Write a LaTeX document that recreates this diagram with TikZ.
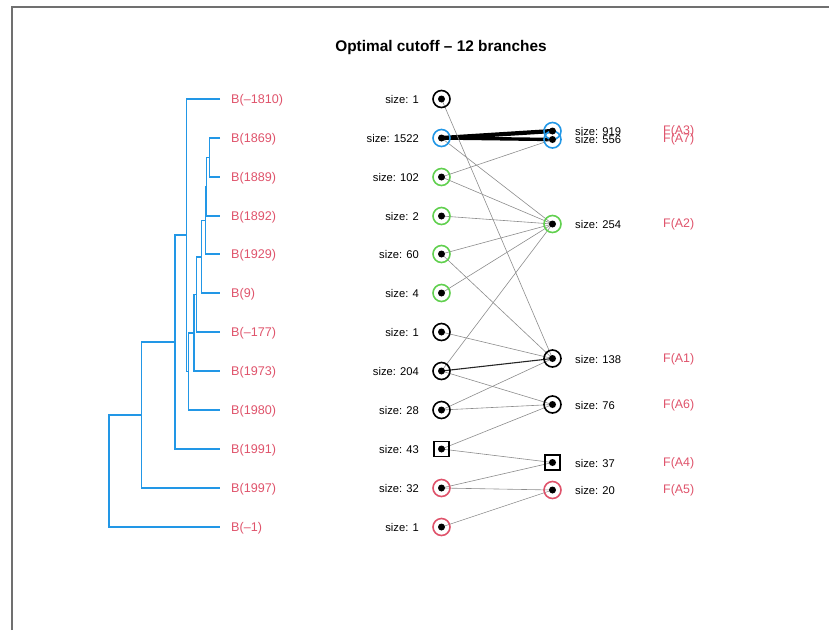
\documentclass[tikz,border=0pt]{standalone}
\usepackage{fontspec}
\setmainfont{Liberation Sans}
\definecolor{rblue}{HTML}{2297E6}
\definecolor{rgreen}{HTML}{61D04F}
\definecolor{rred}{HTML}{DF536B}
\definecolor{framegray}{HTML}{707070}
\definecolor{edgegray}{HTML}{8C8C8C}
\begin{document}
\begin{tikzpicture}[x=1pt,y=-1pt,
  dend/.style={draw=rblue,line width=1.4pt},
  leaflab/.style={anchor=west,text=rred,font=\fontsize{12.6}{14}\selectfont,inner sep=0pt},
  sizelab/.style={font=\fontsize{11.2}{13}\selectfont,inner sep=0pt},
  flab/.style={anchor=west,text=rred,font=\fontsize{12.4}{14}\selectfont,inner sep=0pt},
  cnode/.style={circle,draw=#1,line width=1.6pt,minimum size=17pt,inner sep=0pt},
  snode/.style={rectangle,draw=black,line width=1.4pt,minimum size=15pt,inner sep=0pt},
  thinedge/.style={draw=edgegray,line width=0.6pt},
  thickedge/.style={draw=black,line width=#1},
]
\useasboundingbox (0,0) rectangle (829,630);
% frame
\draw[framegray,line width=1.5pt] (12,630) -- (12,7) -- (829,7);
% title
\node[font=\bfseries\fontsize{15.4}{18}\selectfont] (title) at (441,48) {Optimal cutoff – 12 branches};

% leaf ends
\foreach \i/\y in {1/99,2/138,3/177,4/216,5/254,6/293,7/332,8/371,9/410,10/449,11/488,12/527}{
  \coordinate (l\i) at (220,\y);
}
% leaf labels
\node[leaflab] (b1) at (231,100) {B(–1810)};
\node[leaflab] (b2) at (231,139) {B(1869)};
\node[leaflab] (b3) at (231,178) {B(1889)};
\node[leaflab] (b4) at (231,217) {B(1892)};
\node[leaflab] (b5) at (231,255) {B(1929)};
\node[leaflab] (b6) at (231,294) {B(9)};
\node[leaflab] (b7) at (231,333) {B(–177)};
\node[leaflab] (b8) at (231,372) {B(1973)};
\node[leaflab] (b9) at (231,411) {B(1980)};
\node[leaflab] (b10) at (231,450) {B(1991)};
\node[leaflab] (b11) at (231,489) {B(1997)};
\node[leaflab] (b12) at (231,528) {B(–1)};

% merge points
\coordinate (m1) at (209.3,157.5);
\coordinate (m2) at (206.7,187);
\coordinate (m3) at (205.3,220.5);
\coordinate (m4) at (201.7,257);
\coordinate (m5) at (196.7,294.5);
\coordinate (m6) at (194,333);
\coordinate (m7) at (188.3,371.5);
\coordinate (m8) at (186.7,235);
\coordinate (m9) at (175,342);
\coordinate (m10) at (141.7,415);
\coordinate (m11) at (109,471);

\draw[dend] (l2) -| (m1) |- (l3);
\draw[dend] (m1) -| (m2) |- (l4);
\draw[dend] (m2) -| (m3) |- (l5);
\draw[dend] (m3) -| (m4) |- (l6);
\draw[dend] (m4) -| (m5) |- (l7);
\draw[dend] (m5) -| (m6) |- (l8);
\draw[dend] (m6) -| (m7) |- (l9);
\draw[dend] (l1) -| (m8) |- (m7);
\draw[dend] (m8) -| (m9) |- (l10);
\draw[dend] (m9) -| (m10) |- (l11);
\draw[dend] (m10) -| (m11) |- (l12);

% left column positions
\foreach \i/\y in {1/99,2/138,3/177,4/216,5/254,6/293,7/332,8/371,9/410,10/449,11/488,12/527}{
  \coordinate (p\i) at (441.5,\y);
}
% right column positions
\coordinate (qA3) at (552.5,131);
\coordinate (qA7) at (552.5,139.5);
\coordinate (qA2) at (552.5,224);
\coordinate (qA1) at (552.5,358.5);
\coordinate (qA6) at (552.5,404.5);
\coordinate (qA4) at (552.5,462.5);
\coordinate (qA5) at (552.5,490);

% edges
\draw[thickedge=4.2pt] (p2) -- (qA3);
\draw[thickedge=3.4pt] (p2) -- (qA7);
\draw[thinedge] (p1) -- (qA1);
\draw[thinedge] (p2) -- (qA2);
\draw[thinedge] (p3) -- (qA7);
\draw[thinedge] (p3) -- (qA2);
\draw[thinedge] (p4) -- (qA2);
\draw[thinedge] (p5) -- (qA2);
\draw[thinedge] (p5) -- (qA1);
\draw[thinedge] (p6) -- (qA2);
\draw[thinedge] (p7) -- (qA1);
\draw[thinedge] (p8) -- (qA2);
\draw[draw=black!85,line width=1.1pt] (p8) -- (qA1);
\draw[thinedge] (p8) -- (qA6);
\draw[thinedge] (p9) -- (qA1);
\draw[thinedge] (p9) -- (qA6);
\draw[thinedge] (p10) -- (qA6);
\draw[thinedge] (p10) -- (qA4);
\draw[thinedge] (p11) -- (qA4);
\draw[thinedge] (p11) -- (qA5);
\draw[thinedge] (p12) -- (qA5);

% left column shapes
\node[cnode=black] (n1) at (p1) {};
\node[cnode=rblue] (n2) at (p2) {};
\node[cnode=rgreen] (n3) at (p3) {};
\node[cnode=rgreen] (n4) at (p4) {};
\node[cnode=rgreen] (n5) at (p5) {};
\node[cnode=rgreen] (n6) at (p6) {};
\node[cnode=black] (n7) at (p7) {};
\node[cnode=black] (n8) at (p8) {};
\node[cnode=black] (n9) at (p9) {};
\node[snode] (n10) at (p10) {};
\node[cnode=rred] (n11) at (p11) {};
\node[cnode=rred] (n12) at (p12) {};
% right column shapes
\node[cnode=rblue] (A3) at (qA3) {};
\node[cnode=rblue] (A7) at (qA7) {};
\node[cnode=rgreen] (A2) at (qA2) {};
\node[cnode=black] (A1) at (qA1) {};
\node[cnode=black] (A6) at (qA6) {};
\node[snode] (A4) at (qA4) {};
\node[cnode=rred] (A5) at (qA5) {};
% dots
\foreach \p in {p1,p2,p3,p4,p5,p6,p7,p8,p9,p10,p11,p12,qA3,qA7,qA2,qA1,qA6,qA4,qA5}{
  \fill[black] (\p) circle (3.5pt);
}

% left size labels
\foreach \i/\y/\t in {1/99/1,2/138/1522,3/177/102,4/216/2,5/254/60,6/293/4,7/332/1,8/371/204,9/410/28,10/449/43,11/488/32,12/527/1}{
  \node[sizelab,anchor=east] (s\i) at (419,\y+0.5) {size: \t};
}
% right size labels
\node[sizelab,anchor=west] (sA3) at (575,131) {size: 919};
\node[sizelab,anchor=west] (sA7) at (575,139.5) {size: 556};
\node[sizelab,anchor=west] (sA2) at (575,224.5) {size: 254};
\node[sizelab,anchor=west] (sA1) at (575,359) {size: 138};
\node[sizelab,anchor=west] (sA6) at (575,405) {size: 76};
\node[sizelab,anchor=west] (sA4) at (575,463) {size: 37};
\node[sizelab,anchor=west] (sA5) at (575,490.5) {size: 20};
% F labels
\node[flab] (fA3) at (663,131) {F(A3)};
\node[flab] (fA7) at (663,139.5) {F(A7)};
\node[flab] (fA2) at (663,224) {F(A2)};
\node[flab] (fA1) at (663,359) {F(A1)};
\node[flab] (fA6) at (663,405) {F(A6)};
\node[flab] (fA4) at (663,463) {F(A4)};
\node[flab] (fA5) at (663,490) {F(A5)};
\end{tikzpicture}
\end{document}
